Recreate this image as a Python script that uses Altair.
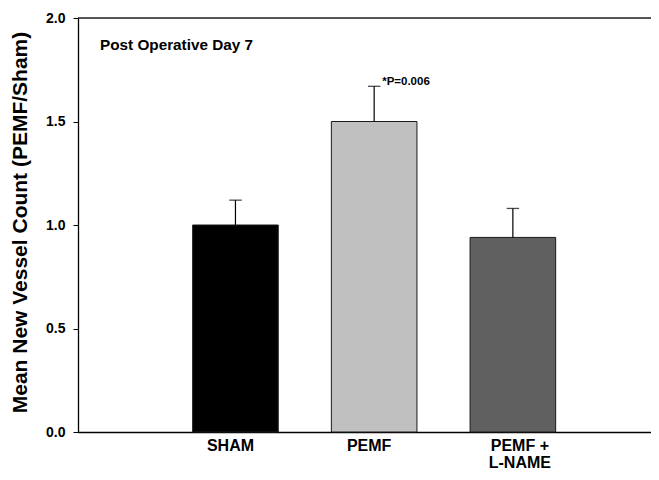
import altair as alt
import pandas as pd

groups = ["SHAM", "PEMF", "PEMF + L-NAME"]
means = [1.00, 1.50, 0.94]
upper = [1.12, 1.67, 1.08]
bar_colors = ["#000000", "#c0c0c0", "#606060"]
y_ticks = [0.0, 0.5, 1.0, 1.5, 2.0]
panel_label = "Post Operative Day 7"
p_label = "*P=0.006"

FONT = "Liberation Sans"

df = pd.DataFrame({"group": groups, "mean": means, "upper": upper})
annot = pd.DataFrame({"group": [groups[1]], "upper": [upper[1]], "txt": [p_label]})
panel = pd.DataFrame({"txt": [panel_label], "y": [1.844]})

xscale = alt.Scale(domain=groups, paddingInner=0.383, paddingOuter=0.757, align=0.546)
yscale = alt.Scale(domain=[0, 2])

x_enc = alt.X(
    "group:N",
    scale=xscale,
    sort=groups,
    axis=alt.Axis(
        title=None,
        labelAngle=0,
        ticks=False,
        domainColor="#000000",
        domainWidth=1.3,
        labelPadding=5,
        labelLineHeight=17,
        labelFontSize=16,
        labelFont=FONT,
        labelFontWeight="bold",
        labelColor="#000000",
        labelOffset={"condition": {"test": "datum.label == 'PEMF + L-NAME'", "value": 7}, "value": -5},
        labelExpr="datum.label == 'PEMF + L-NAME' ? ['PEMF +', 'L-NAME'] : datum.label",
    ),
)

y_enc = alt.Y(
    "mean:Q",
    scale=yscale,
    axis=alt.Axis(
        title="Mean New Vessel Count (PEMF/Sham)",
        values=y_ticks,
        format=".1f",
        grid=False,
        tickSize=5,
        tickColor="#000000",
        domainColor="#000000",
        domainWidth=1.3,
        labelPadding=8,
        labelFontSize=14,
        labelFont=FONT,
        labelFontWeight="bold",
        labelColor="#000000",
        titleFont=FONT,
        titleFontSize=21,
        titleFontWeight="bold",
        titleColor="#000000",
        titleX=-58,
        titleY=204,
        titleAngle=270,
        titleBaseline="middle",
        titleAlign="center",
    ),
)

bars = alt.Chart(df).mark_bar(stroke="#1a1a1a", strokeWidth=1).encode(
    x=x_enc,
    y=y_enc,
    color=alt.Color("group:N", scale=alt.Scale(domain=groups, range=bar_colors), legend=None),
)

err = alt.Chart(df).mark_rule(color="#000000", strokeWidth=1.2).encode(
    x=alt.X("group:N", scale=xscale, sort=groups),
    y=alt.Y("mean:Q", scale=yscale),
    y2="upper:Q",
)

caps = alt.Chart(df).mark_tick(color="#000000", size=12.5, thickness=1.3).encode(
    x=alt.X("group:N", scale=xscale, sort=groups),
    y=alt.Y("upper:Q", scale=yscale),
)

ptext = alt.Chart(annot).mark_text(
    align="left", baseline="alphabetic", dx=8, dy=-1,
    font=FONT, fontSize=11.5, fontWeight="bold", color="#000000",
).encode(
    x=alt.X("group:N", scale=xscale, sort=groups),
    y=alt.Y("upper:Q", scale=yscale),
    text="txt:N",
)

ptitle = alt.Chart(panel).mark_text(
    align="left", baseline="alphabetic",
    font=FONT, fontSize=15.3, fontWeight="bold", color="#000000",
).encode(
    x=alt.value(22),
    y=alt.Y("y:Q", scale=yscale),
    text="txt:N",
)

top_line = alt.Chart(pd.DataFrame({"y": [y_ticks[-1]]})).mark_rule(color="#222222", strokeWidth=1.3).encode(
    y=alt.Y("y:Q", scale=yscale),
)

chart = alt.layer(bars, err, caps, ptext, ptitle, top_line).properties(
    width=573,
    height=414,
    autosize=alt.AutoSizeParams(type="none"),
    padding={"left": 70, "top": 10, "right": 0, "bottom": 38},
).configure_view(stroke=None).configure(background="#ffffff")

chart.save("out.html", embed_options={"renderer": "svg", "actions": False})
